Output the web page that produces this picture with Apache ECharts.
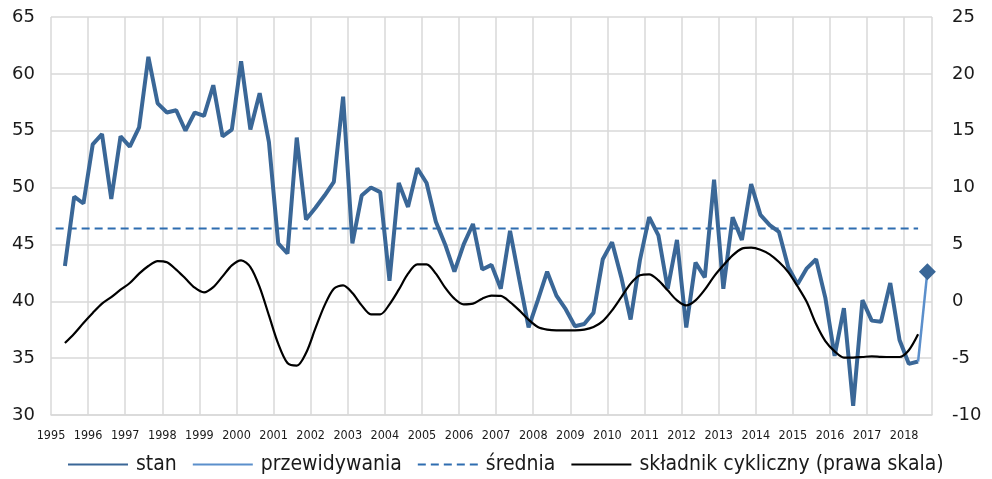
<!DOCTYPE html>
<html>
<head>
<meta charset="utf-8">
<script src="https://cdn.jsdelivr.net/npm/echarts@6/dist/echarts.min.js"></script>
<style>
  html, body { margin: 0; padding: 0; background: #fff; }
  #chart { width: 992px; height: 479px; }
</style>
</head>
<body>
<div id="chart"></div>
<script>
// Quarterly series; index 0 of each array is 1995 Q2.
const startYear = 1995;
const firstQuarter = 1; // 0 = Q1, 1 = Q2 ...

const yearLabels = [1995, 1996, 1997, 1998, 1999, 2000, 2001, 2002, 2003, 2004, 2005, 2006,
  2007, 2008, 2009, 2010, 2011, 2012, 2013, 2014, 2015, 2016, 2017, 2018];

// stan (left scale)
const stan = [
  43.1, 49.2, 48.6,
  53.8, 54.7, 49.0, 54.5,
  53.6, 55.3, 61.5, 57.4,
  56.6, 56.8, 55.0, 56.6,
  56.3, 59.0, 54.5, 55.1,
  61.1, 55.1, 58.3, 54.0,
  45.1, 44.2, 54.4, 47.2,
  48.2, 49.3, 50.5, 58.0,
  45.1, 49.3, 50.0, 49.6,
  41.8, 50.4, 48.3, 51.7,
  50.4, 47.0, 45.0, 42.6,
  45.0, 46.8, 42.8, 43.2,
  41.1, 46.2, 41.9, 37.7,
  40.1, 42.6, 40.5, 39.3,
  37.8, 38.0, 39.0, 43.7,
  45.2, 42.1, 38.4, 43.6,
  47.4, 45.8, 41.1, 45.4,
  37.7, 43.4, 42.1, 50.7,
  41.1, 47.4, 45.4, 50.3,
  47.6, 46.7, 46.1, 43.0,
  41.5, 42.9, 43.7, 40.3,
  35.2, 39.4, 30.8, 40.1,
  38.3, 38.2, 41.6, 36.6,
  34.5, 34.7
];

// przewidywania: last observed quarter and the forecast quarter
const prognoza = [34.7, 42.6];

// średnia (long-run mean of stan)
const srednia = 46.4;

// składnik cykliczny (right scale)
const cykl = [
  -3.67, -2.85, -1.91,
  -1.03, -0.21, 0.37, 1.02,
  1.61, 2.43, 3.10, 3.54,
  3.43, 2.78, 2.00, 1.20,
  0.79, 1.25, 2.19, 3.16,
  3.60, 3.01, 1.25, -1.24,
  -3.73, -5.43, -5.66, -4.55,
  -2.41, -0.36, 1.11, 1.40,
  0.73, -0.36, -1.15, -1.15,
  -0.27, 1.02, 2.43, 3.25,
  3.25, 2.43, 1.20, 0.23,
  -0.27, -0.21, 0.23, 0.50,
  0.47, -0.07, -0.80, -1.62,
  -2.26, -2.49, -2.56, -2.56,
  -2.56, -2.49, -2.26, -1.74,
  -0.80, 0.37, 1.55, 2.28,
  2.37, 1.84, 0.96, 0.08,
  -0.36, 0.08, 1.02, 2.19,
  3.16, 4.04, 4.63, 4.72,
  4.54, 4.13, 3.45, 2.57,
  1.32, -0.07, -2.00, -3.50,
  -4.40, -4.95, -4.95, -4.90,
  -4.84, -4.88, -4.90, -4.90,
  -4.30, -2.90
];

// position of quarter k (counted from 1995 Q1) in the middle of its slot
function quarterX(k) { return startYear + (k + 0.5) / 4; }

const stanData = stan.map((v, i) => [quarterX(i + firstQuarter), v]);
const cyklData = cykl.map((v, i) => [quarterX(i + firstQuarter), v]);
const lastK = stan.length - 1 + firstQuarter;
const prognozaData = prognoza.map((v, i) => {
  const pt = [quarterX(lastK + i), v];
  return i === prognoza.length - 1
    ? { value: pt, symbol: 'diamond', symbolSize: 17, itemStyle: { color: '#3A6797' } }
    : { value: pt, symbol: 'none' };
});
const sredniaData = [[quarterX(0), srednia], [quarterX(lastK), srednia]];

const FONT = 'DejaVu Sans';
const FONT_C = '"DejaVu Sans Condensed", "DejaVu Sans", sans-serif';
const GRID_C = '#D9D9D9';

const chart = echarts.init(document.getElementById('chart'), null, { renderer: 'canvas' });
chart.setOption({
  animation: false,
  backgroundColor: '#fff',
  grid: { left: 51, right: 60, top: 17, bottom: 64 },
  legend: {
    bottom: -1,
    left: 62,
    itemWidth: 60,
    itemHeight: 14,
    itemGap: 15,
    itemStyle: { opacity: 0 },
    textStyle: { fontFamily: FONT_C, fontSize: 21, color: '#1a1a1a', padding: [0, 0, 0, 3] },
    data: ['stan', 'przewidywania', 'średnia', 'składnik cykliczny (prawa skala)']
  },
  xAxis: {
    type: 'value',
    min: 1995,
    max: 2018.75,
    interval: 1,
    axisLine: { show: true, onZero: false, lineStyle: { color: GRID_C, width: 1.5 } },
    axisTick: { show: false },
    splitLine: { show: true, lineStyle: { color: GRID_C, width: 1.5 } },
    axisLabel: {
      fontFamily: FONT_C, fontSize: 12.5, color: '#1a1a1a', margin: 14,
      showMaxLabel: false,
      formatter: v => (yearLabels.indexOf(v) >= 0 ? String(v) : '')
    }
  },
  yAxis: [
    {
      type: 'value', min: 30, max: 65, interval: 5, position: 'left',
      axisLine: { show: false }, axisTick: { show: false },
      splitLine: { lineStyle: { color: GRID_C, width: 1.5 } },
      axisLabel: { fontFamily: FONT, fontSize: 18, color: '#1a1a1a', margin: 16 }
    },
    {
      type: 'value', min: -10, max: 25, interval: 5, position: 'right',
      axisLine: { show: false }, axisTick: { show: false },
      splitLine: { show: false },
      axisLabel: { fontFamily: FONT, fontSize: 18, color: '#1a1a1a', margin: 20, align: 'left' }
    }
  ],
  series: [
    {
      name: 'stan', type: 'line', yAxisIndex: 0, data: stanData,
      symbol: 'none', lineStyle: { color: '#3A6797', width: 4 }, itemStyle: { color: '#3A6797' },
      z: 4
    },
    {
      name: 'przewidywania', type: 'line', yAxisIndex: 0, data: prognozaData,
      symbol: 'none', showSymbol: true,
      lineStyle: { color: '#5B8FCB', width: 2.5 }, itemStyle: { color: '#6A9FD8' },
      z: 5
    },
    {
      name: 'średnia', type: 'line', yAxisIndex: 0, data: sredniaData,
      symbol: 'none', lineStyle: { color: '#2E6DB0', width: 2.2, type: [8, 5] },
      itemStyle: { color: '#2E6DB0' }, z: 3
    },
    {
      name: 'składnik cykliczny (prawa skala)', type: 'line', yAxisIndex: 1, data: cyklData,
      symbol: 'none', smooth: 0.3, lineStyle: { color: '#000', width: 2.2 },
      itemStyle: { color: '#000' }, z: 6
    }
  ]
});
</script>
</body>
</html>
